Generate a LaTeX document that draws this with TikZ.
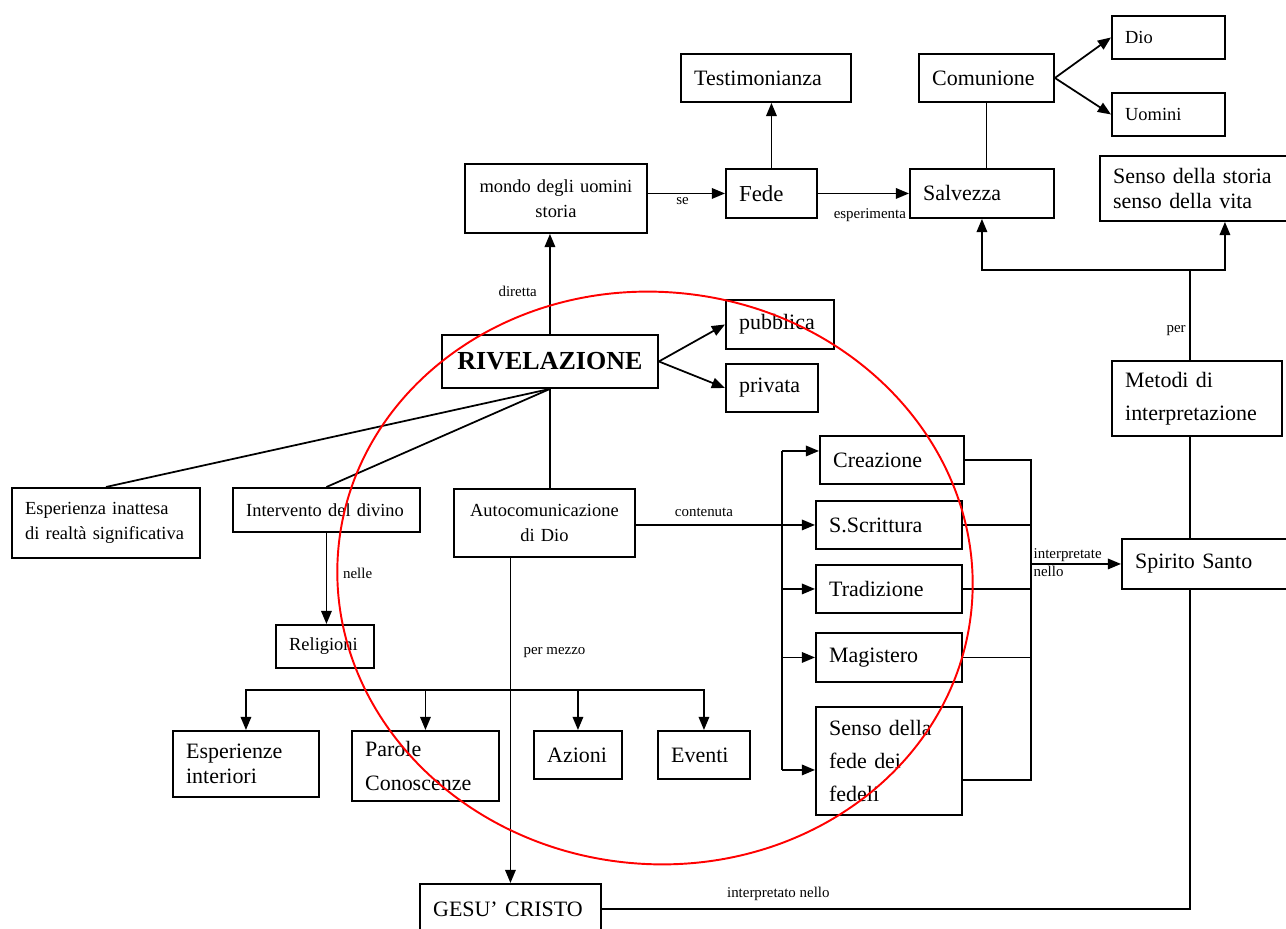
\documentclass[tikz,border=0pt]{standalone}
\usepackage{fontspec}
\setmainfont{Liberation Serif}
\usetikzlibrary{arrows.meta}
\definecolor{ringred}{HTML}{FF0000}
\tikzset{
    box/.style={draw,line width=1.1pt,anchor=north west,inner xsep=7.5pt,inner ysep=2pt,align=left},
    wd/.style={minimum width=#1,text width=#1-15pt},
    big/.style={font=\fontsize{12.5}{14}\selectfont},
    bigwide/.style={font=\fontsize{12.5}{19}\selectfont},
    mid/.style={font=\fontsize{10.5}{14}\selectfont},
    lbl/.style={font=\fontsize{8.5}{10}\selectfont,inner sep=1pt},
    link/.style={draw,line width=1pt},
    arr/.style={link,-{Triangle[length=7.5pt,width=6pt]}},
}

\begin{document}
\begin{tikzpicture}[x=0.02cm,y=-0.02cm]
    \useasboundingbox (0,0) rectangle (1286,929);
    \clip (0,0) rectangle (1286,929);
    % upper part
    \node[box,big,wd=3.4cm,minimum height=0.96cm] (testim) at (680,53) {Testimonianza};
    \node[box,big,wd=2.7cm,minimum height=0.96cm] (comun) at (918,53) {Comunione};
    \node[box,mid,wd=2.26cm,minimum height=0.86cm] (dio) at (1111,15) {Dio};
    \node[box,mid,wd=2.26cm,minimum height=0.86cm] (uomini) at (1111,92) {Uomini};
    \node[box,mid,align=center,wd=3.64cm,minimum height=1.38cm] (mondo) at (464,163) {mondo degli uomini\\storia};
    \node[box,font=\fontsize{13}{15}\selectfont,wd=1.82cm,minimum height=0.98cm] (fede) at (725,168) {Fede};
    \node[box,big,wd=2.88cm,minimum height=0.98cm] (salv) at (909,168) {Salvezza};
    \node[box,big,wd=5cm,minimum height=1.3cm] (sensost) at (1099,155) {Senso della storia\\senso della vita};
    \node[box,big,wd=2.16cm,minimum height=0.98cm] (pubb) at (725,299) {pubblica};
    \node[box,big,wd=1.84cm,minimum height=0.96cm] (priv) at (725,363) {privata};
    \node[box,align=center,font=\fontsize{14.8}{17}\selectfont\bfseries,wd=4.32cm,minimum height=1.06cm] (rivel) at (441,334) {RIVELAZIONE};
    \node[box,bigwide,wd=3.4cm,minimum height=1.5cm] (metodi) at (1111,360) {Metodi di\\interpretazione};
    % middle part
    \node[box,mid,wd=3.76cm,minimum height=1.4cm] (esper) at (11,487) {Esperienza inattesa\\di realtà significativa};
    \node[box,mid,wd=3.74cm,minimum height=0.88cm] (interv) at (232,487) {Intervento del divino};
    \node[box,mid,align=center,wd=3.62cm,minimum height=1.36cm] (autoc) at (453,488) {Autocomunicazione\\di Dio};
    \node[box,big,wd=2.88cm,minimum height=0.96cm] (creaz) at (819,435) {Creazione};
    \node[box,big,wd=2.92cm,minimum height=0.96cm] (scritt) at (815,500) {S.Scrittura};
    \node[box,big,wd=2.92cm,minimum height=0.96cm] (tradiz) at (815,564) {Tradizione};
    \node[box,big,wd=2.92cm,minimum height=0.98cm] (magist) at (815,632) {Magistero};
    \node[box,bigwide,wd=2.92cm,minimum height=2.16cm] (sensofede) at (815,706) {Senso della\\fede dei\\fedeli};
    \node[box,big,wd=4cm,minimum height=1cm] (spirito) at (1121,538) {Spirito Santo};
    % lower part
    \node[box,mid,wd=1.96cm,minimum height=0.86cm] (relig) at (275,624) {Religioni};
    \node[box,big,wd=2.92cm,minimum height=1.32cm] (esperint) at (172,730) {Esperienze\\interiori};
    \node[box,bigwide,wd=2.94cm,minimum height=1.4cm] (parole) at (351,730) {Parole\\Conoscenze};
    \node[box,big,wd=1.76cm,minimum height=0.96cm] (azioni) at (533,730) {Azioni};
    \node[box,big,wd=1.84cm,minimum height=0.96cm] (eventi) at (657,730) {Eventi};
    \node[box,big,wd=3.62cm,minimum height=1cm] (gesu) at (419,883) {GESU' CRISTO};

    \coordinate (lb) at (782,0);
    \coordinate (rb) at (1031,0);
    \coordinate (bar) at (510,690);
    \coordinate (fork) at (1190,270);
    \coordinate (crin) at ([yshift=0.18cm]creaz.west);
    \coordinate (sfin) at ([yshift=-0.18cm]sensofede.west);
    \coordinate (sfout) at ([yshift=-0.38cm]sensofede.east);

    % connectors
    \draw[arr] (rivel.north) -- (rivel.north |- mondo.south) node[lbl,pos=0.43,left=6pt]{diretta};
    \draw[arr] (mondo.east |- fede.west) -- (fede.west) node[lbl,pos=0.45,below=1pt]{se};
    \draw[arr] (fede.east) -- (salv.west) node[lbl,pos=0.57,below=7pt]{esperimenta};
    \draw[arr] (fede.north) -- (fede.north |- testim.south);
    \draw[link] (comun.south) -- (comun.south |- salv.north);
    \draw[arr] (comun.east) -- (dio.west);
    \draw[arr] (comun.east) -- (uomini.west);
    \draw[arr] (rivel.east) -- (pubb.west);
    \draw[arr] (rivel.east) -- (priv.west);
    \draw[link] (rivel.south) -- (esper.north);
    \draw[link] (rivel.south) -- (interv.north);
    \draw[link] (rivel.south) -- (rivel.south |- autoc.north);
    \draw[arr] (interv.south) -- (interv.south |- relig.north) node[lbl,pos=0.44,right=8pt]{nelle};
    \draw[arr] (autoc.east |- scritt.west) -- (scritt.west) node[lbl,pos=0.38,above=3pt]{contenuta};
    \draw[arr] (gesu.north |- autoc.south) -- (gesu.north) node[lbl,pos=0.29,right=6pt]{per mezzo};
    \draw[arr] (bar) -| (esperint.north);
    \draw[arr] (bar) -| (parole.north);
    \draw[arr] (bar) -| (azioni.north);
    \draw[arr] (bar) -| (eventi.north);
    % left bracket
    \draw[link] (lb |- crin) -- (lb |- sfin);
    \draw[arr] (lb |- crin) -- (crin);
    \draw[arr] (lb |- tradiz.west) -- (tradiz.west);
    \draw[arr] (lb |- magist.west) -- (magist.west);
    \draw[arr] (lb |- sfin) -- (sfin);
    % right bracket
    \draw[link] (creaz.east) -- (rb |- creaz.east) -- (rb |- sfout) -- (sfout);
    \draw[link] (scritt.east) -- (rb |- scritt.east);
    \draw[link] (tradiz.east) -- (rb |- tradiz.east);
    \draw[link] (magist.east) -- (rb |- magist.east);
    \draw[arr] (rb |- spirito.west) -- (spirito.west)
        node[lbl,pos=0,anchor=south west]{interpretate} node[lbl,pos=0,anchor=north west]{nello};
    % right column
    \draw[link] (fork |- metodi.north) -- (fork) node[lbl,pos=0.33,left=1pt]{per};
    \draw[arr] (fork) -| (salv.south);
    \draw[arr] (fork) -| (sensost.south);
    \draw[link] (fork |- metodi.south) -- (fork |- spirito.north);
    \draw[link] (fork |- spirito.south) |- (gesu.east) node[lbl,pos=0.85,above=3pt]{interpretato nello};

    \draw[ringred,line width=1.1pt,rotate around={-6:(655,578)}] (655,578) ellipse [x radius=318,y radius=286];
\end{tikzpicture}
\end{document}
